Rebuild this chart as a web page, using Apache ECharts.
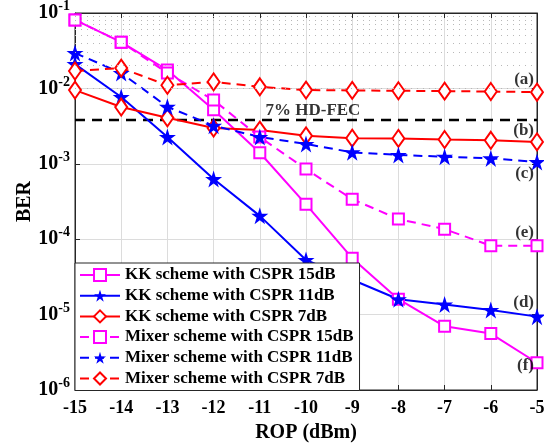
<!DOCTYPE html>
<html><head><meta charset="utf-8">
<script src="https://cdn.jsdelivr.net/npm/echarts@6/dist/echarts.min.js"></script>
<style>html,body{margin:0;padding:0;background:#fff}#c{width:544px;height:444px}</style>
</head><body><div id="c"></div>
<script>
var rop = [-15,-14,-13,-12,-11,-10,-9,-8,-7,-6,-5];
var kk15  = [0.081,0.041,0.0175,5.2e-3,1.4e-3,2.9e-4,5.6e-5,1.6e-5,7.0e-6,5.6e-6,2.3e-6];
var kk11  = [0.021,7.7e-3,2.26e-3,6.3e-4,2.04e-4,5.3e-5,2.9e-5,1.6e-5,1.36e-5,1.15e-5,9.4e-6];
var kk7   = [9.5e-3,5.66e-3,4.07e-3,2.98e-3,2.8e-3,2.35e-3,2.19e-3,2.17e-3,2.1e-3,2.05e-3,1.95e-3];
var mix15 = [0.081,0.041,0.016,7.0e-3,2.26e-3,8.5e-4,3.4e-4,1.85e-4,1.36e-4,8.2e-5,8.2e-5];
var mix11 = [0.0295,0.016,5.7e-3,3.2e-3,2.27e-3,1.83e-3,1.42e-3,1.31e-3,1.24e-3,1.18e-3,1.06e-3];
var mix7  = [0.017,0.0186,0.011,0.0122,0.0105,9.5e-3,9.4e-3,9.3e-3,9.2e-3,9.1e-3,8.9e-3];
var hdFec = 3.8e-3;
var names = ['KK scheme with CSPR 15dB','KK scheme with CSPR 11dB','KK scheme with CSPR 7dB',
             'Mixer scheme with CSPR 15dB','Mixer scheme with CSPR 11dB','Mixer scheme with CSPR 7dB'];
var curveLabels = [['(a)',-5,1.29e-2],['(b)',-5,2.72e-3],['(c)',-5,7.3e-4],['(e)',-5,1.24e-4],['(d)',-5,1.43e-5],['(f)',-5,2.1e-6]];

var STAR = 'path://M0,-10 L2.245,-3.09 L9.51,-3.09 L3.633,1.18 L5.878,8.09 L0,3.82 L-5.878,8.09 L-3.633,1.18 L-9.51,-3.09 L-2.245,-3.09 Z';
var FONT = '"Liberation Serif","Times New Roman",serif';
function pairs(v){ return rop.map(function(x,i){return [x,v[i]];}); }
function mk(name, vals, color, dashed, sym){
  var s = {
    name:name, type:'line', data:pairs(vals), color:color,
    lineStyle:{color:color, width:2, type: dashed ? [9,6] : 'solid'},
    itemStyle:{color: sym==='star' ? color : '#fff', borderColor:color, borderWidth:2},
    symbol: sym==='star' ? STAR : (sym==='rect' ? 'rect' : 'diamond'),
    symbolSize: sym==='star' ? 17 : (sym==='rect' ? 11 : [12,17]),
    showAllSymbol:true, z:3, animation:false
  };
  if (sym==='star') s.itemStyle.borderWidth = 0;
  return s;
}
var minor = [];
for (var k=-6;k<=-2;k++) for (var m=2;m<=9;m++) minor.push({yAxis: m*Math.pow(10,k)});

var chart = echarts.init(document.getElementById('c'));
var series = [
  mk(names[0],kk15,'#ff00ff',false,'rect'),
  mk(names[1],kk11,'#0000ff',false,'star'),
  mk(names[2],kk7,'#ff0000',false,'diamond'),
  mk(names[3],mix15,'#ff00ff',true,'rect'),
  mk(names[4],mix11,'#0000ff',true,'star'),
  mk(names[5],mix7,'#ff0000',true,'diamond'),
  {name:'HD-FEC', type:'line', data:[[rop[0],hdFec],[rop[rop.length-1],hdFec]], symbol:'none',
   lineStyle:{color:'#000', width:2.5, type:[10,7]}, z:2, silent:true,
   markLine:{silent:true, symbol:'none', label:{show:false}, lineStyle:{color:'#b8b8b8', type:[1,5], width:1}, data:minor}},
  {name:'labels', type:'scatter', symbolSize:0, silent:true, z:5,
   data: curveLabels.map(function(l){return {value:[l[1],l[2]], label:{formatter:l[0]}};}),
   label:{show:true, position:'left', distance:3, color:'#000', fontFamily:FONT, fontWeight:'bold', fontSize:17}},
  {name:'fec', type:'scatter', symbolSize:0, silent:true, z:5,
   data:[{value:[-9.85,hdFec]}],
   label:{show:true, position:'top', distance:1, formatter:'7% HD-FEC', color:'#000', fontFamily:FONT, fontWeight:'bold', fontSize:17}}
];
chart.setOption({
  backgroundColor:'#fff',
  animation:false,
  grid:{left:75, right:7, top:13, bottom:54, outerBoundsMode:'none', containLabel:false, show:true, borderColor:'#262626', borderWidth:1, backgroundColor:'transparent'},
  legend:{data:names, orient:'vertical', left:75, top:263, itemWidth:40, itemHeight:15, itemGap:3.7,
    padding:[3.5,6,3.5,4], backgroundColor:'#fff', borderColor:'#262626', borderWidth:1,
    textStyle:{fontFamily:FONT, fontWeight:'bold', fontSize:17, color:'#000'}, selectedMode:false},
  xAxis:[{type:'value', min:-15, max:-5, interval:1,
    name:'ROP (dBm)', nameLocation:'middle', nameGap:33,
    nameTextStyle:{fontFamily:FONT, fontWeight:'bold', fontSize:20, color:'#000'},
    axisLine:{lineStyle:{color:'#262626'}}, axisTick:{inside:true, length:5, lineStyle:{color:'#262626'}},
    axisLabel:{fontFamily:FONT, fontWeight:'bold', fontSize:18, color:'#000', margin:9},
    splitLine:{show:true, lineStyle:{color:'#dcdcdc', width:1}}},
    {type:'value', position:'top', min:-15, max:-5, interval:1, axisLabel:{show:false},
    axisLine:{lineStyle:{color:'#262626'}}, axisTick:{inside:true, length:5, lineStyle:{color:'#262626'}}, splitLine:{show:false}}],
  yAxis:[{type:'log', logBase:10, min:1e-6, max:1e-1,
    name:'BER', nameLocation:'middle', nameGap:40, nameRotate:90, nameMoveOverlap:false,
    nameTextStyle:{fontFamily:FONT, fontWeight:'bold', fontSize:20, color:'#000'},
    axisLine:{show:true, lineStyle:{color:'#262626'}}, axisTick:{show:true, inside:true, length:5, lineStyle:{color:'#262626'}},
    axisLabel:{margin:5, formatter:function(v){ return '{b|10}{s|' + Math.round(Math.log10(v)) + '}'; },
      rich:{b:{fontFamily:FONT, fontWeight:'bold', fontSize:20, color:'#000'},
            s:{fontFamily:FONT, fontWeight:'bold', fontSize:14, color:'#000', padding:[0,0,13,0]}}},
    splitLine:{show:true, lineStyle:{color:'#dcdcdc', width:1}}},
    {type:'log', logBase:10, min:1e-6, max:1e-1, position:'right', axisLabel:{show:false},
    axisLine:{show:true, lineStyle:{color:'#262626'}}, axisTick:{show:true, inside:true, length:5, lineStyle:{color:'#262626'}}, splitLine:{show:false}}],
  series:series
});
</script></body></html>
